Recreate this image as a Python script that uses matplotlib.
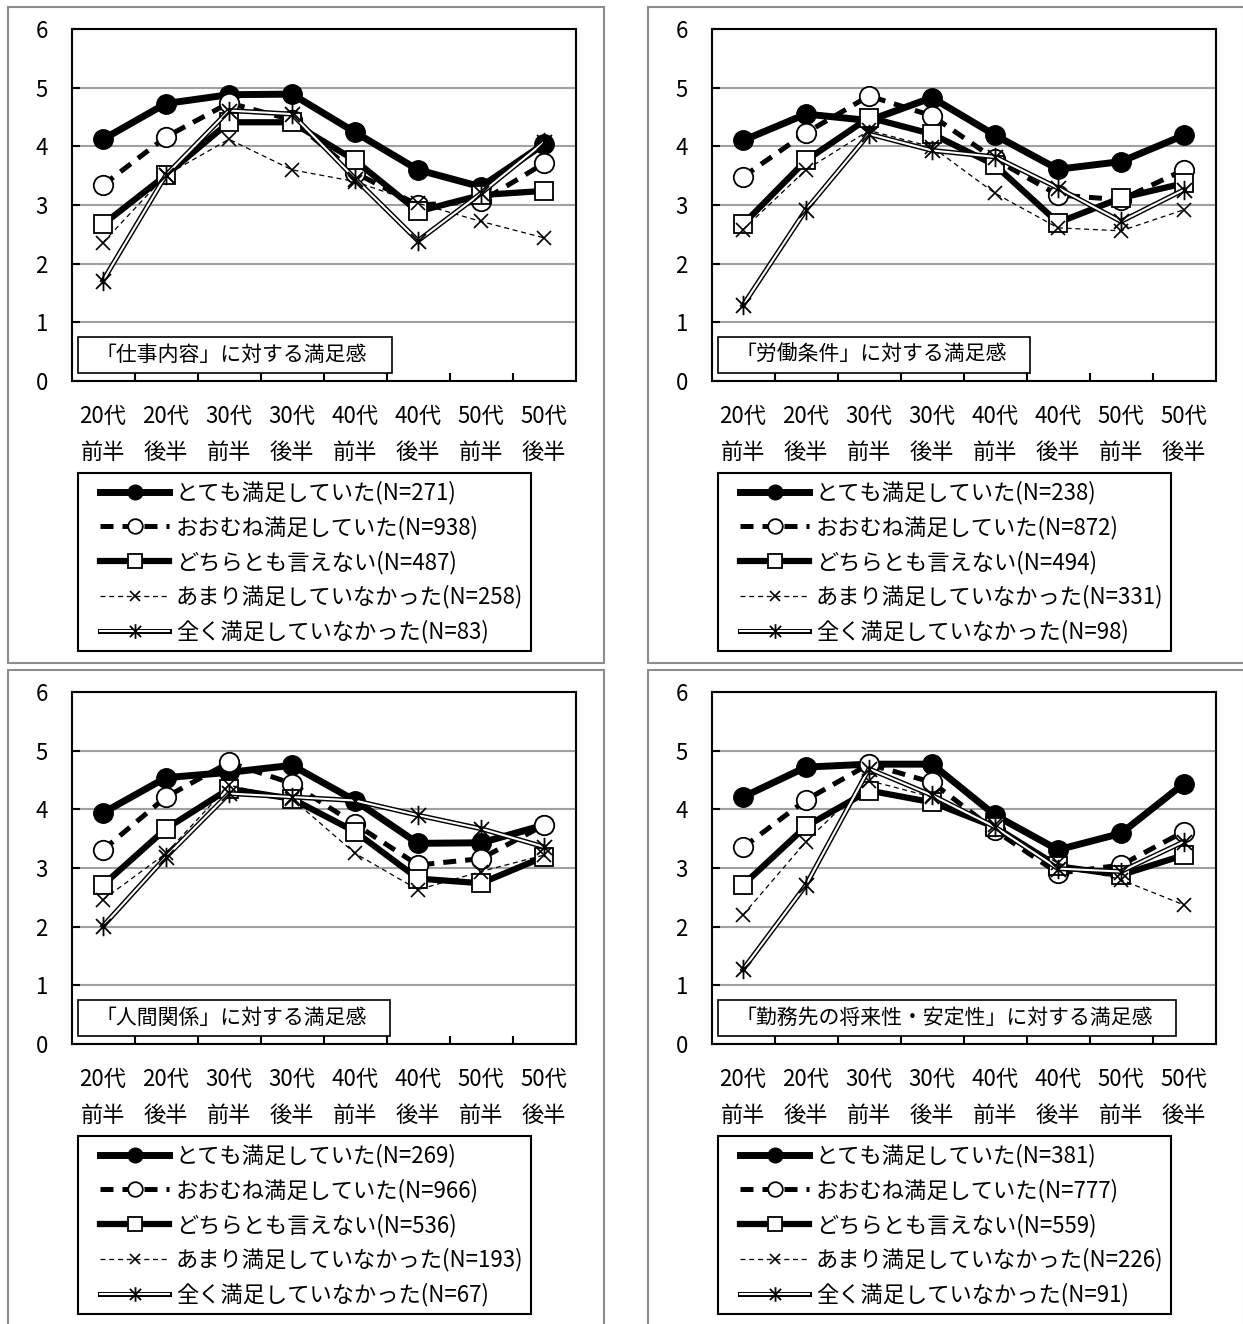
import numpy as np
import matplotlib.pyplot as plt
from matplotlib.path import Path
from matplotlib.patches import Rectangle
from matplotlib.lines import Line2D
from matplotlib.legend_handler import HandlerTuple, HandlerLine2D

plt.rcParams['font.family'] = ['Noto Sans CJK JP', 'DejaVu Sans']

# data
ages = ['20代\n前半', '20代\n後半', '30代\n前半', '30代\n後半',
        '40代\n前半', '40代\n後半', '50代\n前半', '50代\n後半']
series_names = ['とても満足していた', 'おおむね満足していた', 'どちらとも言えない',
                'あまり満足していなかった', '全く満足していなかった']
titles = ['「仕事内容」に対する満足感', '「労働条件」に対する満足感',
          '「人間関係」に対する満足感', '「勤務先の将来性・安定性」に対する満足感']
n_counts = [[271, 938, 487, 258, 83],
            [238, 872, 494, 331, 98],
            [269, 966, 536, 193, 67],
            [381, 777, 559, 226, 91]]

shigoto = [[4.12, 4.73, 4.88, 4.89, 4.24, 3.60, 3.31, 4.04],
           [3.34, 4.16, 4.74, 4.45, 3.55, 3.00, 3.06, 3.71],
           [2.67, 3.51, 4.41, 4.41, 3.76, 2.89, 3.17, 3.24],
           [2.36, 3.51, 4.12, 3.60, 3.40, 3.03, 2.72, 2.44],
           [1.71, 3.51, 4.61, 4.55, 3.45, 2.39, 3.20, 4.07]]
roudou = [[4.10, 4.55, 4.44, 4.83, 4.19, 3.61, 3.74, 4.19],
          [3.48, 4.23, 4.86, 4.52, 3.78, 3.17, 3.09, 3.60],
          [2.67, 3.76, 4.49, 4.21, 3.68, 2.70, 3.12, 3.37],
          [2.58, 3.60, 4.27, 3.99, 3.20, 2.61, 2.56, 2.92],
          [1.29, 2.92, 4.21, 3.93, 3.82, 3.29, 2.72, 3.26]]
ningen = [[3.94, 4.54, 4.63, 4.75, 4.15, 3.42, 3.43, 3.73],
          [3.31, 4.21, 4.80, 4.44, 3.75, 3.05, 3.16, 3.73],
          [2.71, 3.67, 4.35, 4.18, 3.62, 2.82, 2.74, 3.19],
          [2.46, 3.25, 4.41, 4.18, 3.25, 2.63, 2.94, 3.22],
          [2.01, 3.19, 4.27, 4.21, 4.15, 3.90, 3.67, 3.36]]
shourai = [[4.21, 4.72, 4.77, 4.77, 3.90, 3.31, 3.59, 4.44],
           [3.35, 4.16, 4.77, 4.46, 3.64, 2.91, 3.05, 3.62],
           [2.71, 3.71, 4.32, 4.12, 3.70, 3.03, 2.88, 3.22],
           [2.20, 3.45, 4.49, 4.21, 3.73, 3.08, 2.80, 2.37],
           [1.27, 2.71, 4.69, 4.24, 3.70, 2.99, 2.94, 3.45]]
panel_values = [shigoto, roudou, ningen, shourai]

# layout (pixels)
W, H = 1243, 1324
offsets = [(0, 0), (640, 0), (0, 663), (640, 663)]
box_w = [314, 312, 312, 458]

star = Path([(-1, -1), (1, 1), (-1, 1), (1, -1), (0, -1.3), (0, 1.3)],
            [Path.MOVETO, Path.LINETO] * 3)

fig = plt.figure(figsize=(W / 100, H / 100), dpi=100)

for i in range(4):
    dx, dy = offsets[i]
    vals = panel_values[i]

    # gray frame of each chart
    fig.add_artist(Rectangle(((8 + dx) / W, 1 - (663 + dy) / H), 596 / W, 656 / H,
                             transform=fig.transFigure, fill=False,
                             edgecolor='#8c8c8c', lw=1.5, zorder=0))

    ax = fig.add_axes([(71.5 + dx) / W, 1 - (381 + dy) / H, 504 / W, 352 / H])
    x = np.arange(len(ages))

    l1, = ax.plot(x, vals[0], color='k', lw=5, marker='o', ms=14,
                  mfc='k', mec='k', zorder=3)
    l2, = ax.plot(x, vals[1], color='k', lw=3.6, ls=(0, (2.6, 1.8)), marker='o', ms=14,
                  mfc='white', mec='k', mew=1.3, zorder=4)
    l3, = ax.plot(x, vals[2], color='k', lw=4.5, marker='s', ms=13.5,
                  mfc='white', mec='k', mew=1.3, zorder=5)
    l4, = ax.plot(x, vals[3], color='k', lw=0.9, ls=(0, (4, 3)), marker='x', ms=10,
                  mew=1.2, zorder=6)
    l5a, = ax.plot(x, vals[4], color='k', lw=3.6, zorder=7)
    l5b, = ax.plot(x, vals[4], color='white', lw=1.5, zorder=7.1)
    l5c, = ax.plot(x, vals[4], ls='none', marker=star, ms=14, mec='k', mew=1.3, zorder=7.2)

    ax.set_xlim(-0.5, 7.5)
    ax.set_ylim(0, 6)
    ax.set_yticks(range(7))
    ax.set_xticks(x, ages)
    ax.set_xticks(np.arange(0.5, 7, 1), minor=True)
    ax.tick_params(axis='x', which='major', length=0, pad=17, labelsize=16)
    ax.tick_params(axis='x', which='minor', direction='in', length=6, width=1.5)
    ax.tick_params(axis='y', direction='in', length=6, width=1.5, pad=17, labelsize=16)
    for lab in ax.get_xticklabels():
        lab.set_linespacing(1.72)
    ax.yaxis.grid(True, color='#a0a0a0', lw=1.5)
    ax.set_axisbelow(True)
    for sp in ax.spines.values():
        sp.set_linewidth(1.5)

    # title box
    fig.add_artist(Rectangle(((78 + dx) / W, 1 - (373 + dy) / H), box_w[i] / W, 36 / H,
                             transform=fig.transFigure, facecolor='white',
                             edgecolor='k', lw=1.2, zorder=2))
    fig.text((95 + dx) / W, 1 - (355 + dy) / H, titles[i], fontsize=15,
             va='center', ha='left', zorder=3)

    labels = [f'{n}(N={c})' for n, c in zip(series_names, n_counts[i])]
    leg = ax.legend([l1, l2, l3, l4, (l5a, l5b, l5c)], labels,
                    handler_map={tuple: HandlerTuple(ndivide=1, xpad=0.65),
                                 Line2D: HandlerLine2D(xpad=0.65)},
                    loc='upper left', bbox_to_anchor=((78 + dx) / W, 1 - (473 + dy) / H),
                    bbox_transform=fig.transFigure, borderaxespad=0, fontsize=16,
                    handlelength=3.75, handletextpad=0.3, labelspacing=0.5,
                    borderpad=0.35, fancybox=False, edgecolor='k', framealpha=1,
                    numpoints=1, markerscale=0.75)
    leg.get_frame().set_linewidth(1.5)

fig.savefig('out.png', dpi=100)
